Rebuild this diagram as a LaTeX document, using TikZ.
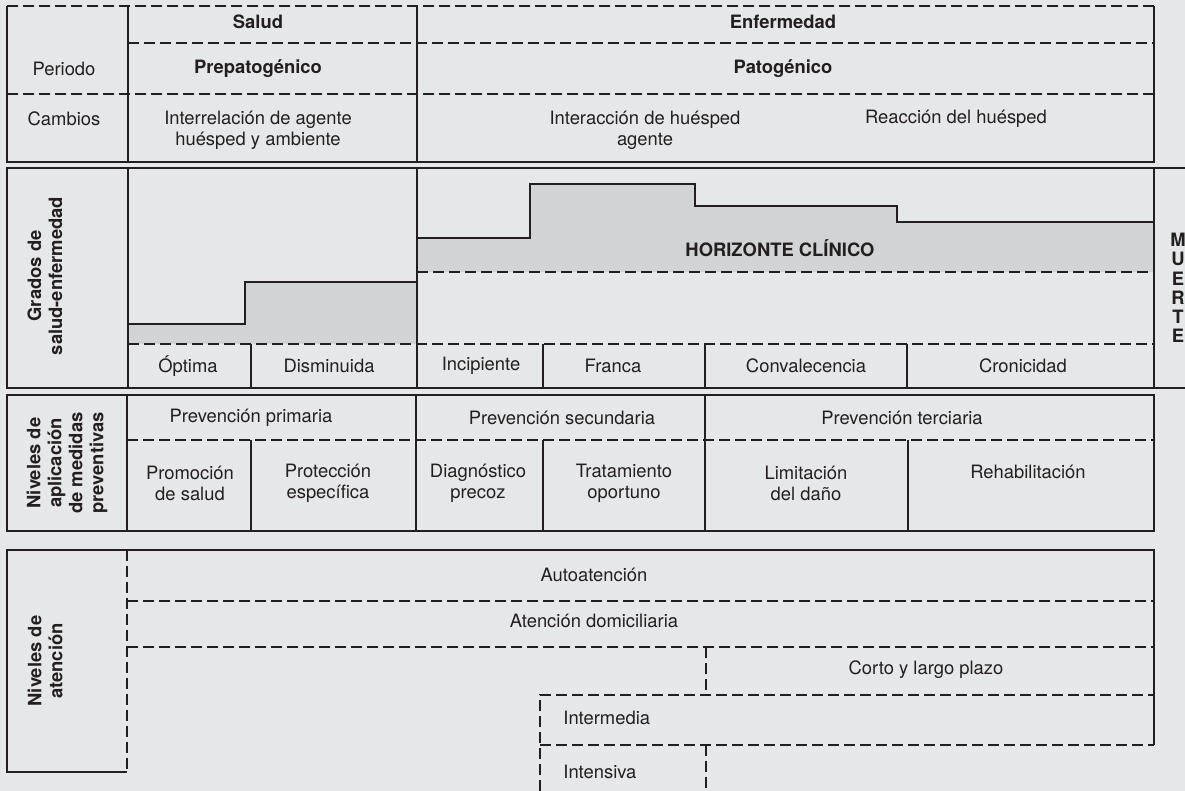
\documentclass[tikz,border=0pt]{standalone}
\usepackage{fontspec}
\setmainfont{TeX Gyre Heros}
\definecolor{bg}{HTML}{E6E7E8}
\definecolor{horizgray}{HTML}{D1D3D4}
\definecolor{ink}{HTML}{231F20}
\newcommand\tabsize{\fontsize{9.2}{10.5}\selectfont}
\tikzset{
  rule/.style={draw=ink, line width=1.3pt},
  dashrule/.style={draw=ink, line width=1.3pt, dash pattern=on 5.5pt off 2.5pt},
  cell/.style={inner sep=0pt, align=center, text=ink, font=\tabsize},
  head/.style={cell, font=\tabsize\bfseries},
  sidelabel/.style={head, rotate=90},
}

\begin{document}
\begin{tikzpicture}[x=0.5pt,y=-0.5pt]
\fill[bg] (0,0) rectangle (1185,791);
\useasboundingbox (0,0) rectangle (1185,791);

% periodo
\draw[rule] (7,6) -- (7,162) -- (1154,162) -- (1154,6);
\draw[rule] (128,6) -- (128,162) (417,6) -- (417,162);
\draw[dashrule] (7,6) -- (1154,6) (128,43) -- (1154,43) (7,94) -- (1154,94);
\path
    ( 258, 22) node [head] (salud)    {Salud}
    ( 783, 22) node [head] (enferm)   {Enfermedad}
    (  64, 69) node [cell] (periodo)  {Periodo}
    ( 258, 69) node [head] (prepat)   {Prepatogénico}
    ( 783, 69) node [head] (patog)    {Patogénico}
    (  64,119) node [cell] (cambios)  {Cambios}
    ( 258,130) node [cell] (interrel) {Interrelación de agente\\huésped y ambiente}
    ( 645,130) node [cell] (interacc) {Interacción de huésped\\agente}
    ( 956,119) node [cell] (reacc)    {Reacción del huésped};

% grados de salud-enfermedad
\fill[horizgray] (128,324) -- (245,324) -- (245,282) -- (417,282) -- (417,344) -- (128,344) -- cycle;
\fill[horizgray] (417,238) -- (530,238) -- (530,184) -- (695,184) -- (695,206)
    -- (897,206) -- (897,222) -- (1154,222) -- (1154,272) -- (417,272) -- cycle;
\draw[rule] (128,324) -- (245,324) -- (245,282) -- (417,282);
\draw[rule] (417,238) -- (530,238) -- (530,184) -- (695,184) -- (695,206)
    -- (897,206) -- (897,222) -- (1154,222);
\draw[dashrule] (417,272) -- (1154,272) (128,344) -- (1154,344);
\draw[rule] (1185,168) -- (7,168) -- (7,388) -- (1185,388);
\draw[rule] (128,168) -- (128,388) (417,168) -- (417,388) (1154,168) -- (1154,388);
\draw[rule] (251,344) -- (251,388) (543,344) -- (543,388)
            (705,344) -- (705,388) (907,344) -- (907,388);
\path
    (  45,276) node [sidelabel] (grados)  {Grados de\\salud-enfermedad}
    ( 780,248) node [head] (horizonte)    {HORIZONTE CLÍNICO}
    (1178,288) node [head, font=\fontsize{9.2}{9.6}\selectfont\bfseries] (muerte) {M\\U\\E\\R\\T\\E}
    ( 188,366) node [cell] (optima)       {Óptima}
    ( 329,366) node [cell] (disminuida)   {Disminuida}
    ( 481,366) node [cell] (incipiente)   {Incipiente}
    ( 613,366) node [cell] (franca)       {Franca}
    ( 806,366) node [cell] (convalec)     {Convalecencia}
    (1023,366) node [cell] (cronicidad)   {Cronicidad};

% niveles de aplicacion
\draw[rule] (7,395) rectangle (1154,531);
\draw[rule] (127,395) -- (127,531) (416,395) -- (416,531) (705,395) -- (705,531);
\draw[rule] (251,440) -- (251,531) (543,440) -- (543,531) (908,440) -- (908,531);
\draw[dashrule] (127,440) -- (1154,440);
\path
    (  67,463) node [sidelabel] (aplicacion) {Niveles de\\aplicación\\de medidas\\preventivas}
    ( 251,418) node [cell] (primaria)   {Prevención primaria}
    ( 562,418) node [cell] (secundaria) {Prevención secundaria}
    ( 902,418) node [cell] (terciaria)  {Prevención terciaria}
    ( 190,483) node [cell] (promocion)  {Promoción\\de salud}
    ( 328,483) node [cell] (proteccion) {Protección\\específica}
    ( 478,483) node [cell] (diagnost)   {Diagnóstico\\precoz}
    ( 624,483) node [cell] (tratam)     {Tratamiento\\oportuno}
    ( 806,483) node [cell] (limitac)    {Limitación\\del daño}
    (1028,472) node [cell] (rehab)      {Rehabilitación};

% niveles de atencion
\draw[rule] (127,772) -- (7,772) -- (7,550) -- (1154,550) -- (1154,745);
\draw[dashrule] (127,550) -- (127,772);
\draw[dashrule] (127,601) -- (1154,601) (127,647) -- (1154,647);
\draw[dashrule] (706,647) -- (706,695);
\draw[dashrule] (540,791) -- (540,695) -- (1154,695);
\draw[dashrule] (540,745) -- (1154,745) (706,745) -- (706,791);
\path
    (  45,661) node [sidelabel] (atencion) {Niveles de\\atención}
    ( 594,575) node [cell] (autoat)    {Autoatención}
    ( 594,621) node [cell] (domicil)   {Atención domiciliaria}
    ( 926,670) node [cell] (plazo)     {Corto y largo plazo}
    ( 563,718) node [cell, anchor=west] (intermedia) {Intermedia}
    ( 563,772) node [cell, anchor=west] (intensiva)  {Intensiva};
\end{tikzpicture}
\end{document}
